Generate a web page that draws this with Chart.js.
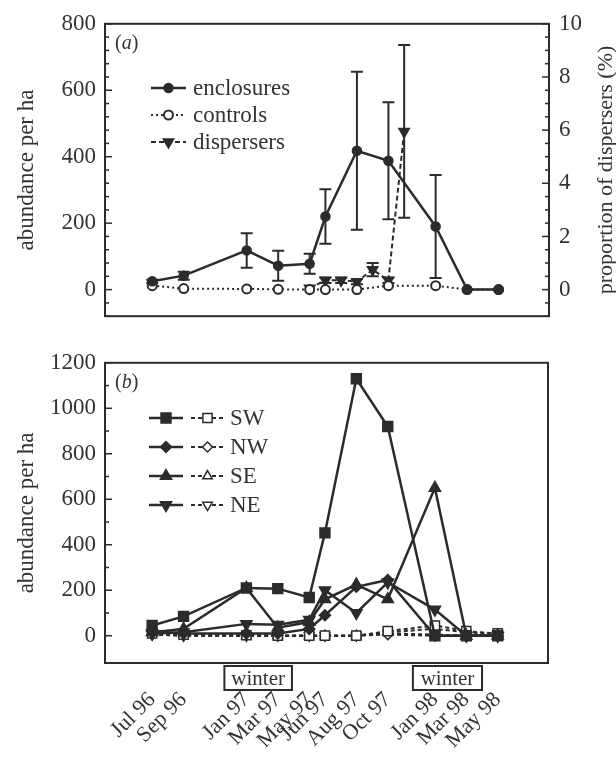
<!DOCTYPE html>
<html>
<head>
<meta charset="utf-8">
<script src="https://cdn.jsdelivr.net/npm/chart.js@4.4.0/dist/chart.umd.min.js"></script>
<style>
  html, body { margin: 0; padding: 0; background: #fff; }
  #wrap { position: relative; width: 616px; height: 758px; overflow: hidden; }
  canvas { position: absolute; left: 0; }
</style>
</head>
<body>
<div id="wrap">
  <canvas id="chartA" width="616" height="340" style="top:0"></canvas>
  <canvas id="chartB" width="616" height="418" style="top:340px"></canvas>
</div>
<script>
// months counted from Jul 96
const sampleMonths = [0, 2, 6, 8, 10, 11, 13, 15, 18, 20, 22];
const tickLabels = ['Jul 96', 'Sep 96', 'Jan 97', 'Mar 97', 'May 97', 'Jun 97', 'Aug 97', 'Oct 97', 'Jan 98', 'Mar 98', 'May 98'];
const winterSpans = [[4.6, 8.9], [16.6, 21.0]];

// panel (a)
const enclosures = [25, 42, 118, 72, 78, 220, 418, 388, 190, 0, 0];
const enclosuresErr = [5, 12, 52, 45, 30, 82, 238, 176, 155, 0, 0];
const controls = [12, 3, 2, 1, 0, 0, 0, 12, 12, 0, 0];
const disperserMonths = [10, 11, 12, 13, 14, 15, 16];
const dispersers = [0.05, 0.35, 0.35, 0.3, 0.75, 0.35, 5.95];
const dispersersErr = [0, 0.1, 0.1, 0.1, 0.25, 0.1, 3.25];

// panel (b) enclosures
const swEncl = [45, 85, 210, 207, 168, 452, 1130, 920, 0, 0, 0];
const nwEncl = [20, 10, 10, 10, 30, 90, 215, 245, 0, 0, 0];
const seEncl = [15, 30, 210, 35, 60, 160, 225, 160, 650, 0, 0];
const neEncl = [10, 15, 52, 48, 70, 200, 100, 235, 115, 0, 0];
// panel (b) controls
const swCtrl = [10, 5, 2, 0, 0, 0, 0, 20, 45, 20, 10];
const nwCtrl = [5, 0, 0, 0, 0, 0, 0, 5, 0, 0, 0];
const seCtrl = [15, 5, 0, 0, 0, 0, 0, 15, 30, 15, 5];
const neCtrl = [5, 0, 0, 0, 0, 0, 0, 10, 5, 0, 0];

const INK = '#2b2b2b';
const SERIF = "'Liberation Serif', 'Times New Roman', serif";
Chart.defaults.font.family = SERIF;
Chart.defaults.font.size = 23;
Chart.defaults.color = '#333';

function pts(xs, ys) {
  return ys.map((y, i) => ({ x: xs[i], y: y }));
}

function line(label, xs, ys, extra) {
  return Object.assign({
    label: label,
    data: pts(xs, ys),
    borderColor: INK,
    borderWidth: 2.5,
    pointBorderColor: INK,
    pointBackgroundColor: INK,
    pointBorderWidth: 1.5,
    pointRadius: 4.5,
    tension: 0,
    clip: false
  }, extra || {});
}

// error bars, frame, inward ticks, legend and small labels
const decor = {
  id: 'decor',
  beforeDatasetsDraw(chart) {
    const ctx = chart.ctx;
    chart.data.datasets.forEach((ds, i) => {
      if (!ds.errors) return;
      const meta = chart.getDatasetMeta(i);
      const ys = chart.scales[meta.yAxisID];
      ctx.save();
      ctx.strokeStyle = INK;
      ctx.lineWidth = 2;
      meta.data.forEach((p, j) => {
        const e = ds.errors[j];
        if (!e) return;
        const v = ds.data[j].y;
        const t = ys.getPixelForValue(v + e);
        const b = ys.getPixelForValue(v - e);
        ctx.beginPath();
        ctx.moveTo(p.x, t); ctx.lineTo(p.x, b);
        ctx.moveTo(p.x - 6, t); ctx.lineTo(p.x + 6, t);
        ctx.moveTo(p.x - 6, b); ctx.lineTo(p.x + 6, b);
        ctx.stroke();
      });
      ctx.restore();
    });
  },
  afterDraw(chart, args, opts) {
    const ctx = chart.ctx;
    const a = chart.chartArea;
    ctx.save();
    ctx.strokeStyle = INK;
    ctx.lineWidth = 2;
    ctx.strokeRect(a.left, a.top, a.right - a.left, a.bottom - a.top);

    // inward tick marks
    ['y', 'y2'].forEach(id => {
      const s = chart.scales[id];
      if (!s) return;
      const left = s.position === 'left';
      const x0 = left ? a.left : a.right;
      ctx.lineWidth = 1.5;
      s.ticks.forEach(t => {
        const y = s.getPixelForValue(t.value);
        const len = t.label !== '' ? 7 : 4;
        ctx.beginPath();
        ctx.moveTo(x0, y);
        ctx.lineTo(left ? x0 + len : x0 - len, y);
        ctx.stroke();
      });
    });

    // panel letter
    ctx.fillStyle = '#333';
    ctx.textBaseline = 'middle';
    ctx.textAlign = 'left';
    let lx = a.left + 10;
    const ly = a.top + 20;
    ctx.font = '20px ' + SERIF;
    ctx.fillText('(', lx, ly); lx += ctx.measureText('(').width;
    ctx.font = 'italic 20px ' + SERIF;
    ctx.fillText(opts.letter, lx, ly); lx += ctx.measureText(opts.letter).width;
    ctx.font = '20px ' + SERIF;
    ctx.fillText(')', lx, ly);

    // legend
    const lg = opts.legend;
    ctx.font = '23px ' + SERIF;
    lg.rows.forEach((row, r) => {
      const y = lg.y0 + r * lg.dy;
      row.ds.forEach((di, k) => {
        const ds = chart.data.datasets[di];
        const x1 = lg.samples[k][0], x2 = lg.samples[k][1];
        ctx.save();
        ctx.strokeStyle = ds.borderColor;
        ctx.lineWidth = ds.borderWidth;
        ctx.setLineDash(ds.borderDash || []);
        ctx.beginPath(); ctx.moveTo(x1, y); ctx.lineTo(x2, y); ctx.stroke();
        ctx.setLineDash([]);
        ctx.fillStyle = ds.pointBackgroundColor;
        ctx.strokeStyle = ds.pointBorderColor;
        ctx.lineWidth = ds.pointBorderWidth;
        Chart.helpers.drawPoint(ctx, {
          pointStyle: ds.pointStyle || 'circle',
          rotation: ds.pointRotation || 0,
          radius: ds.pointRadius,
          borderWidth: ds.pointBorderWidth
        }, (x1 + x2) / 2, y);
        ctx.restore();
      });
      ctx.fillStyle = '#333';
      ctx.fillText(row.label, lg.textX, y + 1);
    });

    // winter boxes under the x axis
    if (opts.winter) {
      const xs = chart.scales.x;
      ctx.font = '21px ' + SERIF;
      ctx.textAlign = 'center';
      winterSpans.forEach(sp => {
        const p1 = xs.getPixelForValue(sp[0]);
        const p2 = xs.getPixelForValue(sp[1]);
        const top = a.bottom + 3, h = 24;
        ctx.lineWidth = 2;
        ctx.strokeRect(p1, top, p2 - p1, h);
        ctx.fillText('winter', (p1 + p2) / 2, top + h / 2 + 1);
      });
    }

    // right axis title, reading upwards
    if (opts.rightTitle) {
      ctx.translate(606, (a.top + a.bottom) / 2);
      ctx.rotate(-Math.PI / 2);
      ctx.textAlign = 'center';
      ctx.font = '22px ' + SERIF;
      ctx.fillText(opts.rightTitle, 0, 0);
    }
    ctx.restore();
  }
};

const leftAxis = (min, max, step, major, w) => ({
  type: 'linear', position: 'left', min: min, max: max,
  grid: { display: false, drawTicks: false }, border: { display: false },
  ticks: { stepSize: step, autoSkip: false, padding: 9, callback: v => (v >= 0 && v % major === 0) ? v : '' },
  title: { display: true, text: 'abundance per ha', font: { size: 23 }, padding: { top: 13, bottom: 0 } },
  afterFit: s => { s.width = w; }
});

new Chart(document.getElementById('chartA'), {
  type: 'line',
  data: {
    datasets: [
      line('enclosures', sampleMonths, enclosures, { yAxisID: 'y', errors: enclosuresErr }),
      line('controls', sampleMonths, controls, {
        yAxisID: 'y', borderWidth: 2, borderDash: [2, 3],
        pointBackgroundColor: '#fff', pointBorderWidth: 2
      }),
      line('dispersers', disperserMonths, dispersers, {
        yAxisID: 'y2', borderWidth: 2, borderDash: [5, 3],
        pointStyle: 'triangle', pointRotation: 180, pointRadius: 6, errors: dispersersErr
      })
    ]
  },
  options: {
    responsive: false,
    animation: false,
    layout: { padding: { top: 22, bottom: 7, left: 0, right: 0 } },
    plugins: {
      legend: { display: false },
      tooltip: { enabled: false },
      decor: {
        letter: 'a',
        rightTitle: 'proportion of dispersers (%)',
        legend: {
          rows: [
            { ds: [0], label: 'enclosures' },
            { ds: [1], label: 'controls' },
            { ds: [2], label: 'dispersers' }
          ],
          samples: [[151, 186]], textX: 193, y0: 88, dy: 27
        }
      }
    },
    scales: {
      x: { type: 'linear', min: -3, max: 25.2, display: false },
      y: leftAxis(-80, 800, 40, 200, 105),
      y2: {
        type: 'linear', position: 'right', min: -1, max: 10,
        grid: { display: false, drawTicks: false }, border: { display: false },
        ticks: { stepSize: 0.5, autoSkip: false, padding: 10, callback: v => (v >= 0 && v % 2 === 0) ? v : '' },
        afterFit: s => { s.width = 67; }
      }
    }
  },
  plugins: [decor]
});

const openPt = { borderWidth: 2, borderDash: [4, 3], pointBackgroundColor: '#fff', pointBorderWidth: 1.5 };

new Chart(document.getElementById('chartB'), {
  type: 'line',
  data: {
    datasets: [
      line('SW', sampleMonths, swEncl, { pointStyle: 'rect', pointRadius: 7 }),
      line('NW', sampleMonths, nwEncl, { pointStyle: 'rectRot', pointRadius: 5.5 }),
      line('SE', sampleMonths, seEncl, { pointStyle: 'triangle', pointRadius: 6.5 }),
      line('NE', sampleMonths, neEncl, { pointStyle: 'triangle', pointRotation: 180, pointRadius: 6.5 }),
      line('SW control', sampleMonths, swCtrl, Object.assign({ pointStyle: 'rect', pointRadius: 6.5 }, openPt)),
      line('NW control', sampleMonths, nwCtrl, Object.assign({ pointStyle: 'rectRot', pointRadius: 5 }, openPt)),
      line('SE control', sampleMonths, seCtrl, Object.assign({ pointStyle: 'triangle', pointRadius: 5.5 }, openPt)),
      line('NE control', sampleMonths, neCtrl, Object.assign({ pointStyle: 'triangle', pointRotation: 180, pointRadius: 5.5 }, openPt))
    ]
  },
  options: {
    responsive: false,
    animation: false,
    layout: { padding: { top: 12, right: 68, left: 0, bottom: 0 } },
    plugins: {
      legend: { display: false },
      tooltip: { enabled: false },
      decor: {
        letter: 'b',
        winter: true,
        legend: {
          rows: [
            { ds: [0, 4], label: 'SW' },
            { ds: [1, 5], label: 'NW' },
            { ds: [2, 6], label: 'SE' },
            { ds: [3, 7], label: 'NE' }
          ],
          samples: [[149, 183], [191, 224]], textX: 230, y0: 78, dy: 29
        }
      }
    },
    scales: {
      x: {
        type: 'linear', position: 'bottom', min: -3, max: 25.2,
        grid: { display: false, drawTicks: false }, border: { display: false },
        afterBuildTicks: s => { s.ticks = sampleMonths.map(v => ({ value: v })); },
        ticks: {
          autoSkip: false, minRotation: 45, maxRotation: 45, padding: 24,
          font: { size: 22 },
          callback: (v, i) => tickLabels[i]
        },
        afterFit: s => { s.height = 95; }
      },
      y: leftAxis(-120, 1200, 100, 200, 105)
    }
  },
  plugins: [decor]
});
</script>
</body>
</html>
